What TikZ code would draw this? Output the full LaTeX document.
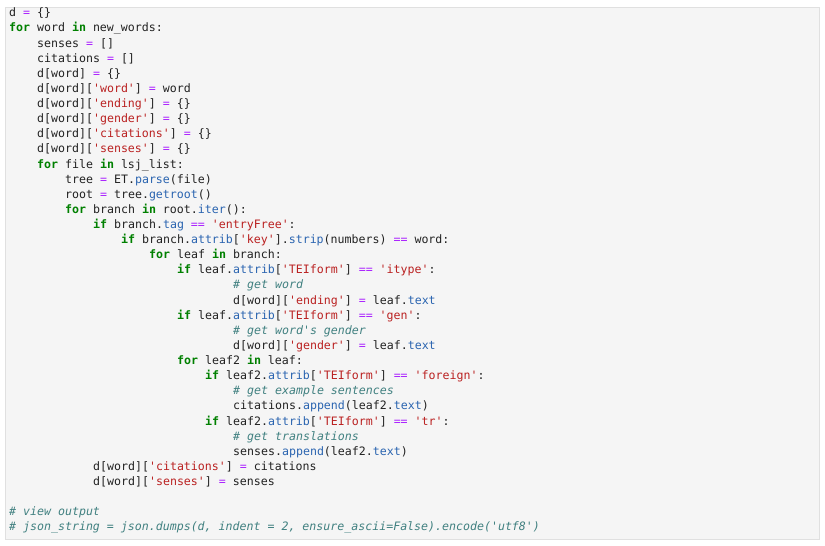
\documentclass[tikz,border=0pt]{standalone}
\usepackage{fontspec}
\newfontfamily\codefont{DejaVu Sans Mono}
\definecolor{kwc}{HTML}{008000}
\definecolor{stc}{HTML}{BA2121}
\definecolor{opc}{HTML}{AA22FF}
\definecolor{atc}{HTML}{2A64B0}
\definecolor{cmc}{HTML}{408080}
\definecolor{txc}{HTML}{222222}
\definecolor{bgc}{HTML}{F5F5F5}
\definecolor{bdc}{HTML}{E0E0E0}
\newcommand\kw[1]{{\bfseries\color{kwc}#1}}
\newcommand\st[1]{{\color{stc}#1}}
\newcommand\op[1]{{\color{opc}#1}}
\newcommand\at[1]{{\color{atc}#1}}
\newcommand\cm[1]{{\itshape\color{cmc}#1}}
\newcommand\q{\char39 }
\begin{document}
\begin{tikzpicture}[x=1pt,y=-1pt,
  ln/.style={anchor=west,inner sep=0pt,text=txc,font=\codefont\fontsize{11.6}{14}\selectfont}]
\useasboundingbox (0,0) rectangle (825,546);
\draw[bdc,fill=bgc] (5.5,7.5) rectangle (819.5,539.5);
\def\L#1#2{14+15.12*(#1-1)}
\newcommand\cl[3]{\node[ln] (l#1) at ({9+7*#2},{14+15.12*(#1-1)}) {\strut #3};}
\cl{1}{0}{d \op{=} \{\}}
\cl{2}{0}{\kw{for} word \kw{in} new\_words:}
\cl{3}{4}{senses \op{=} []}
\cl{4}{4}{citations \op{=} []}
\cl{5}{4}{d[word] \op{=} \{\}}
\cl{6}{4}{d[word][\st{\q word\q}] \op{=} word}
\cl{7}{4}{d[word][\st{\q ending\q}] \op{=} \{\}}
\cl{8}{4}{d[word][\st{\q gender\q}] \op{=} \{\}}
\cl{9}{4}{d[word][\st{\q citations\q}] \op{=} \{\}}
\cl{10}{4}{d[word][\st{\q senses\q}] \op{=} \{\}}
\cl{11}{4}{\kw{for} file \kw{in} lsj\_list:}
\cl{12}{8}{tree \op{=} ET.\at{parse}(file)}
\cl{13}{8}{root \op{=} tree.\at{getroot}()}
\cl{14}{8}{\kw{for} branch \kw{in} root.\at{iter}():}
\cl{15}{12}{\kw{if} branch.\at{tag} \op{==} \st{\q entryFree\q}:}
\cl{16}{16}{\kw{if} branch.\at{attrib}[\st{\q key\q}].\at{strip}(numbers) \op{==} word:}
\cl{17}{20}{\kw{for} leaf \kw{in} branch:}
\cl{18}{24}{\kw{if} leaf.\at{attrib}[\st{\q TEIform\q}] \op{==} \st{\q itype\q}:}
\cl{19}{32}{\cm{\# get word}}
\cl{20}{32}{d[word][\st{\q ending\q}] \op{=} leaf.\at{text}}
\cl{21}{24}{\kw{if} leaf.\at{attrib}[\st{\q TEIform\q}] \op{==} \st{\q gen\q}:}
\cl{22}{32}{\cm{\# get word\q s gender}}
\cl{23}{32}{d[word][\st{\q gender\q}] \op{=} leaf.\at{text}}
\cl{24}{24}{\kw{for} leaf2 \kw{in} leaf:}
\cl{25}{28}{\kw{if} leaf2.\at{attrib}[\st{\q TEIform\q}] \op{==} \st{\q foreign\q}:}
\cl{26}{32}{\cm{\# get example sentences}}
\cl{27}{32}{citations.\at{append}(leaf2.\at{text})}
\cl{28}{28}{\kw{if} leaf2.\at{attrib}[\st{\q TEIform\q}] \op{==} \st{\q tr\q}:}
\cl{29}{32}{\cm{\# get translations}}
\cl{30}{32}{senses.\at{append}(leaf2.\at{text})}
\cl{31}{12}{d[word][\st{\q citations\q}] \op{=} citations}
\cl{32}{12}{d[word][\st{\q senses\q}] \op{=} senses}
\cl{34}{0}{\cm{\# view output}}
\cl{35}{0}{\cm{\# json\_string = json.dumps(d, indent = 2, ensure\_ascii=False).encode(\q utf8\q )}}
\end{tikzpicture}
\end{document}
